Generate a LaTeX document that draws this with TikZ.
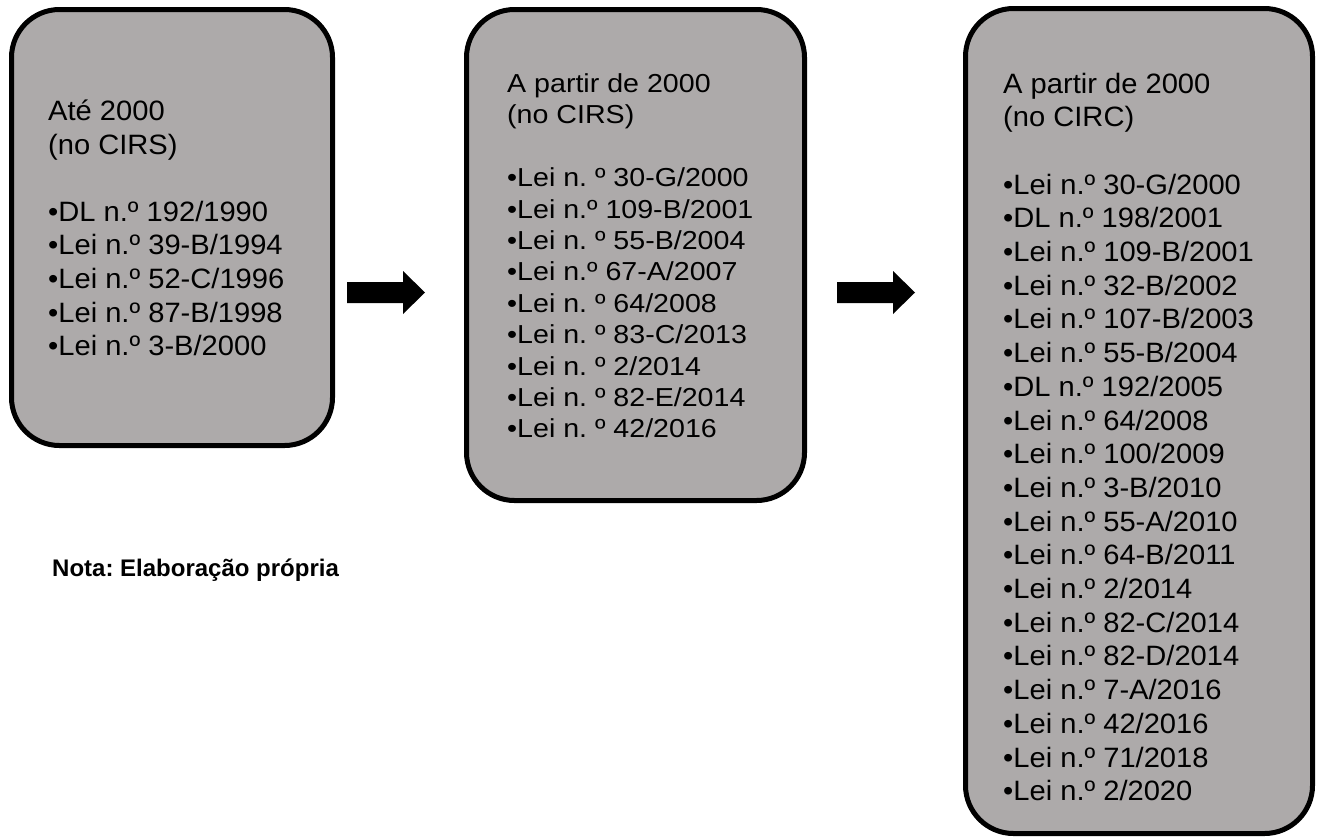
\documentclass[tikz,border=0pt]{standalone}
\usepackage{fontspec}
\setmainfont{Liberation Sans}
\newfontfamily\boxfontA[FakeStretch=1.04]{Liberation Sans}
\newfontfamily\boxfontB[FakeStretch=1.10]{Liberation Sans}
\definecolor{boxgray}{RGB}{173,170,170}
\frenchspacing
\tikzset{
  lawbox/.style={draw=black, fill=boxgray, line width=5pt, rounded corners=48pt,
    inner sep=0pt, rectangle},
  lineA/.style={anchor=base west, inner sep=0pt, font=\boxfontA\fontsize{28}{33}\selectfont},
  lineB/.style={anchor=base west, inner sep=0pt, font=\boxfontB\fontsize{26}{31}\selectfont},
  note/.style={anchor=base west, inner sep=0pt, font=\bfseries\fontsize{24}{28}\selectfont},
  blockarrow/.style={fill=black}
}
\begin{document}
\begin{tikzpicture}[x=1pt,y=-1pt]
\useasboundingbox (0,0) rectangle (1319,839);
% boxes
\node[lawbox, minimum width=321pt, minimum height=436pt] (box1) at (172,227.5) {};
\node[lawbox, minimum width=338pt, minimum height=491pt] (box2) at (635.5,255) {};
\node[lawbox, minimum width=347pt, minimum height=825pt] (box3) at (1139,421) {};
% box 1 text
\node[lineA] (b1h1) at (48,120.5) {Até 2000};
\node[lineA] (b1h2) at (48,154.1) {(no CIRS)};
\foreach \t [count=\i from 3] in {{•DL n.º 192/1990},{•Lei n.º 39-B/1994},{•Lei n.º 52-C/1996},{•Lei n.º 87-B/1998},{•Lei n.º 3-B/2000}}
  \node[lineA] (b1l\i) at (48,120.5+\i*33.6) {\t};
% box 2 text
\node[lineB] (b2h1) at (507,92.5) {A partir de 2000};
\node[lineB] (b2h2) at (507,123.9) {(no CIRS)};
\foreach \t [count=\i from 3] in {{•Lei n. º 30-G/2000},{•Lei n.º 109-B/2001},{•Lei n. º 55-B/2004},{•Lei n.º 67-A/2007},{•Lei n. º 64/2008},{•Lei n. º 83-C/2013},{•Lei n. º 2/2014},{•Lei n. º 82-E/2014},{•Lei n. º 42/2016}}
  \node[lineB] (b2l\i) at (507,92.5+\i*31.4) {\t};
% box 3 text
\node[lineA] (b3h1) at (1003,93) {A partir de 2000};
\node[lineA] (b3h2) at (1003,126.7) {(no CIRC)};
\foreach \t [count=\i from 3] in {{•Lei n.º 30-G/2000},{•DL n.º 198/2001},{•Lei n.º 109-B/2001},{•Lei n.º 32-B/2002},{•Lei n.º 107-B/2003},{•Lei n.º 55-B/2004},{•DL n.º 192/2005},{•Lei n.º 64/2008},{•Lei n.º 100/2009},{•Lei n.º 3-B/2010},{•Lei n.º 55-A/2010},{•Lei n.º 64-B/2011},{•Lei n.º 2/2014},{•Lei n.º 82-C/2014},{•Lei n.º 82-D/2014},{•Lei n.º 7-A/2016},{•Lei n.º 42/2016},{•Lei n.º 71/2018},{•Lei n.º 2/2020}}
  \node[lineA] (b3l\i) at (1003,93+\i*33.7) {\t};
% arrows
\fill[blockarrow] (347,282) -- (403,282) -- (403,271) -- (425,292.5) -- (403,314) -- (403,303) -- (347,303) -- cycle;
\fill[blockarrow] (837,282) -- (893,282) -- (893,271) -- (915,292.5) -- (893,314) -- (893,303) -- (837,303) -- cycle;
% note
\node[note] (nota) at (52,576) {Nota: Elaboração própria};
\end{tikzpicture}
\end{document}
